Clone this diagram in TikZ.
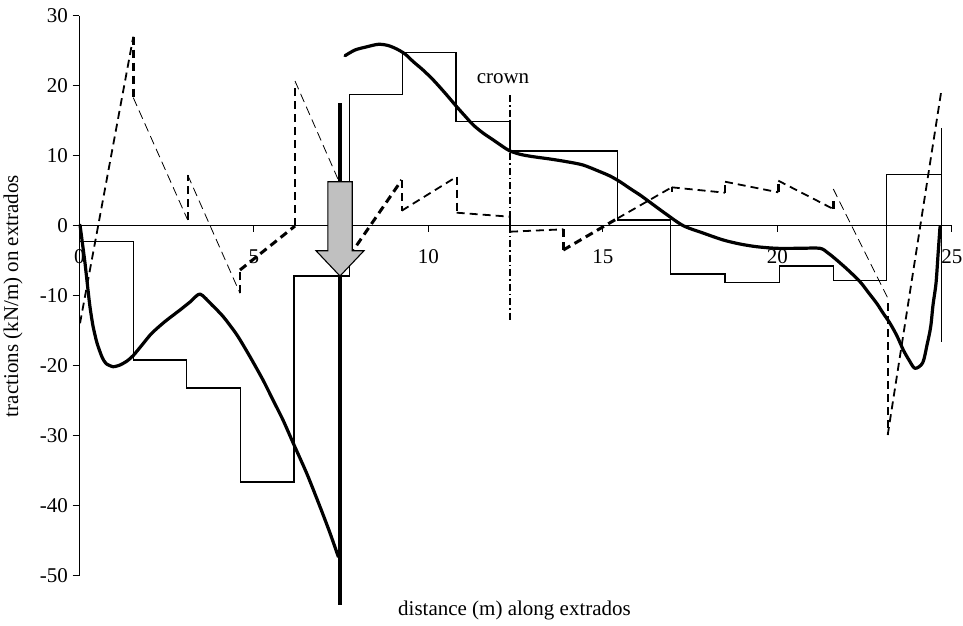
\documentclass[tikz,border=0pt]{standalone}
\usepackage{fontspec}
\setmainfont{Liberation Serif}
\begin{document}
\begin{tikzpicture}[x=1pt,y=-1pt,
  axisline/.style={line width=1.1pt,black},
  stepline/.style={line width=1.5pt,black,line join=miter},
  thickcurve/.style={line width=3.2pt,black,line join=round,line cap=round},
  dthin/.style={line width=0.8pt,dash pattern=on 9pt off 5pt},
  dmed/.style={line width=1.8pt,dash pattern=on 8pt off 5pt},
  dvert/.style={line width=2.4pt,dash pattern=on 8pt off 5pt},
  dthick/.style={line width=3pt,dash pattern=on 8pt off 5pt},
  ticklbl/.style={font=\fontsize{21}{24}\selectfont,inner sep=0pt},
  axlbl/.style={font=\fontsize{21}{24}\selectfont,inner sep=0pt}]
\useasboundingbox (0,0) rectangle (963,625);
\fill[white] (0,0) rectangle (963,625);

% axes
\draw[axisline] (79.3,15.7) -- (79.3,575.7);
\draw[axisline] (79.3,225.7) -- (951.8,225.7);
\foreach \v/\t in {30/30,20/20,10/10,0/0,-10/-10,-20/-20,-30/-30,-40/-40,-50/-50}{
  \draw[axisline] (72.5,{225.7-7*\v}) -- (79.3,{225.7-7*\v});
  \node[ticklbl,anchor=east] (yl\v) at (68,{225.7-7*\v}) {\t};
}
\foreach \v in {5,10,15,20,25}{
  \draw[axisline] ({79.3+34.9*\v},225.7) -- ({79.3+34.9*\v},231.7);
}
\foreach \v in {0,5,10,15,20,25}{
  \node[ticklbl] (xl\v) at ({79.3+34.9*\v},257) {\v};
}
\node[axlbl] (xlabel) at (514.5,610) {distance (m) along extrados};
\node[axlbl,rotate=90] (ylabel) at (13,296) {tractions (kN/m) on extrados};

% step function
\draw[stepline] (79.3,241.7) -- (133.3,241.7) -- (133.3,360) -- (186.7,360) -- (186.7,388)
  -- (240.3,388) -- (240.3,482) -- (294,482) -- (294,276) -- (349.3,276) -- (349.3,94.3)
  -- (402.7,94.3) -- (402.7,52.3) -- (456,52.3) -- (456,121.7) -- (510,121.7) -- (510,151)
  -- (617.3,151) -- (617.3,220) -- (670.7,220) -- (670.7,274) -- (725,274) -- (725,282.3)
  -- (779.3,282.3) -- (779.3,266) -- (833.3,266) -- (833.3,280.7) -- (886.7,280.7)
  -- (886.7,174.7) -- (941.7,174.7);
\draw[stepline] (941.7,128) -- (941.7,341.7);

% crown line
\draw[line width=1.1pt,dash pattern=on 7pt off 3pt on 1.5pt off 3pt] (510,95) -- (510,321);
\node[axlbl,anchor=base] (crown) at (503,83) {crown};

% thick curve part 1
\draw[thickcurve] plot[smooth,tension=0.4] coordinates {
 (80,225) (82,240) (85,263) (88,290) (90,307) (93,326) (97,343) (102,357) (106,363.5)
 (113,366.7) (120,365) (127,361) (133.3,355.5) (142,345) (151.7,333.3) (165,321.5)
 (180,310) (190,302) (200,294) (212,305) (223.3,316.7) (237,335) (250,356.7) (263,380)
 (273,400) (283,420) (293.3,443.3) (307,474) (320,506.7) (330,533) (338.3,556.7)};
% thick curve part 2
\draw[thickcurve] plot[smooth,tension=0.5] coordinates {
 (345,55.7) (355,50) (366,47) (378.3,44.3) (388,45.5) (396.7,49) (405,54) (413.3,61.7)
 (423,70) (433.3,80) (445,93) (456.7,106.7) (465,116) (473.3,125) (483,133) (493.3,140)
 (502,146) (510,151) (521,154.5) (533.3,156.7) (550,159) (566.7,161.7) (583,165)
 (600,171.7) (610,176) (620,181.7) (630,188.5) (640,195) (650,202.3) (666,214)
 (683.3,225.7) (703,233) (723.3,240) (740,244) (756.7,246.7) (776.7,248.3) (800,248.3)
 (820,248.3) (828,253) (836.7,260) (848,270) (860,281.7) (868,292) (876.7,303.3)
 (883,313) (890,323.3) (897,336) (903.3,350) (909,360) (915,368.3) (922.7,362.7)
 (927,345) (930.7,326.7) (933,305) (936,283.3) (938,255) (940,226.7)};

% dashed series
\draw[dmed] (80,323.3) -- (133.3,36.7);
\draw[dvert] (133.3,36.7) -- (133.3,97.7);
\draw[dthin] (133.3,97.7) -- (187.7,220);
\draw[dvert] (187.7,220) -- (187.7,175);
\draw[dthin] (187.7,175) -- (240,293.3);
\draw[dvert] (240,293.3) -- (240,270);
\draw[dthick] (240,270) -- (295,226);
\draw[dvert] (295,226) -- (295,83);
\draw[dthin] (295,81) -- (349.3,205);
\draw[dthick] (349.3,256) -- (401.7,180);
\draw[dvert] (401.7,180) -- (401.7,210.7);
\draw[dmed] (401.7,210.7) -- (456.7,176.7);
\draw[dvert] (456.7,176.7) -- (456.7,212.7);
\draw[dmed] (456.7,212.7) -- (510,216.7);
\draw[dvert] (510,216.7) -- (510,231.7);
\draw[dmed] (510,231.7) -- (563.3,229.3);
\draw[dvert] (563.3,229.3) -- (563.3,250);
\draw[dthick] (563.3,250) -- (617.3,218.5);
\draw[dmed] (617.3,218.5) -- (671.7,187.3);
\draw[dvert] (671.7,187.3) -- (671.7,192);
\draw[dmed] (671.7,187.3) -- (725,192.7);
\draw[dvert] (725,192.7) -- (725,181.7);
\draw[dmed] (725,181.7) -- (778.3,192.3);
\draw[dvert] (778.3,192.3) -- (778.3,180.7);
\draw[dmed] (778.3,180.7) -- (833.3,209);
\draw[dvert] (833.3,209) -- (833.3,199.3);
\draw[dthin] (833.3,189) -- (887.7,298);
\draw[dvert] (887.7,303) -- (887.7,435);
\draw[dmed] (887.7,435) -- (941.7,88.3);

% load line and arrow
\draw[line width=3.2pt] (340,103) -- (340,605);
\draw[line width=1.1pt,fill={rgb,255:red,192;green,192;blue,192},line join=miter]
  (327.8,181.7) -- (352.2,181.7) -- (352.2,250.7) -- (364,250.7) -- (340,276)
  -- (316,250.7) -- (327.8,250.7) -- cycle;
\end{tikzpicture}
\end{document}
